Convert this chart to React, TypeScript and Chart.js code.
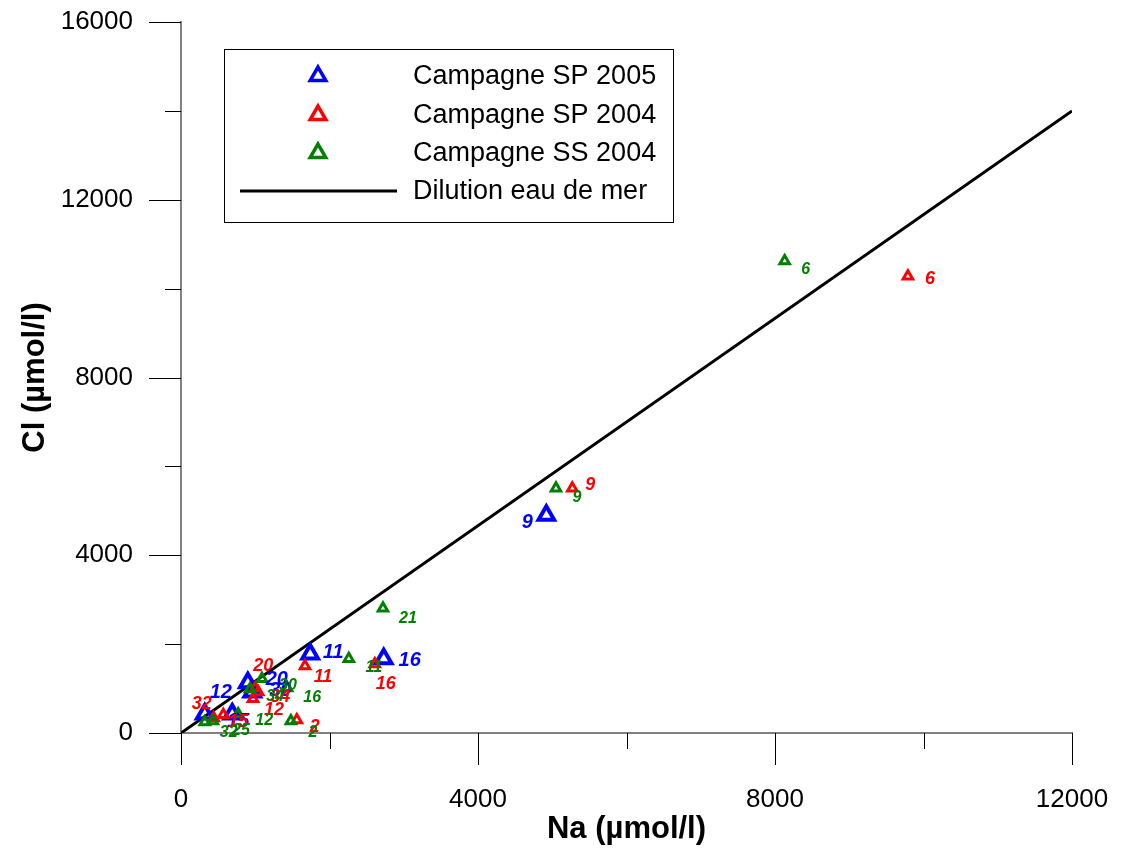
import React, { useEffect, useRef } from "react";
import { Chart, registerables } from "chart.js";

Chart.register(...registerables);

// ---- axis ticks ----
const xTickValues = [0, 4000, 8000, 12000];
const yTickValues = [0, 4000, 8000, 12000, 16000];
const xMinorStep = 2000;
const yMinorStep = 2000;

// ---- series names ----
const seriesNames = [
  "Campagne SP 2005",
  "Campagne SP 2004",
  "Campagne SS 2004",
  "Dilution eau de mer",
];

// ---- Campagne SP 2005 ----
const sp2005Ids = ["9", "16", "11", "20", "30", "12", "15"];
const sp2005Na = [4920, 2730, 1740, 900, 960, 320, 690];
const sp2005Cl = [4900, 1670, 1780, 1130, 920, 430, 430];

// ---- Campagne SP 2004 ----
const sp2004Ids = ["6", "9", "11", "16", "2", "20", "34", "12", "32", "15"];
const sp2004Na = [9790, 5270, 1670, 2610, 1560, 1000, 1040, 970, 440, 570];
const sp2004Cl = [10280, 5510, 1510, 1550, 290, 1010, 920, 770, 340, 410];

// ---- Campagne SS 2004 ----
const ss2004Ids = ["6", "9", "21", "11", "16", "30", "34", "12", "2", "32", "25"];
const ss2004Na = [8130, 5050, 2720, 2260, 1430, 1090, 930, 770, 1480, 320, 430];
const ss2004Cl = [10620, 5510, 2810, 1670, 1010, 1220, 990, 430, 270, 250, 270];

// ---- seawater dilution line ----
const dilutionNa = [0, 12000];
const dilutionCl = [0, 14000];

// label placement (pixel offsets from the marker), kept apart from the data
const labelOffsets: Record<string, [number, number][]> = {
  sp2005: [[-19, 7], [26, 2], [23, -1], [29, -3], [28, -2], [16, -21], [6, 8]],
  sp2004: [[22, 3], [18, -3], [18, 11], [11, 20], [18, 7], [8, -22], [22, 5], [21, 11], [-12, -14], [15, 7]],
  ss2004: [[21, 9], [21, 9], [25, 10], [25, 9], [25, 9], [26, 7], [25, 8], [26, 7], [22, 12], [24, 11], [28, 10]],
};

const BLUE = "#0000ff";
const RED = "#ff0000";
const GREEN = "#008000";
const FONT = "'Liberation Sans', Arial, Helvetica, sans-serif";

const toPoints = (xs: number[], ys: number[]) => xs.map((x, i) => ({ x, y: ys[i] }));

const zeroPadding = (scale: any) => {
  scale.paddingTop = 0;
  scale.paddingBottom = 0;
  scale.paddingLeft = 0;
  scale.paddingRight = 0;
};

const tickMarksPlugin = {
  id: "tickMarks",
  afterDraw(chart: any) {
    const { ctx, chartArea, scales } = chart;
    const xs = scales.x;
    const ys = scales.y;
    ctx.save();
    ctx.strokeStyle = "#000";
    ctx.lineWidth = 1;
    for (let v = xs.min; v <= xs.max; v += xMinorStep) {
      const px = Math.round(xs.getPixelForValue(v)) + 0.5;
      const len = v % 4000 === 0 ? 32 : 16;
      ctx.beginPath();
      ctx.moveTo(px, chartArea.bottom);
      ctx.lineTo(px, chartArea.bottom + len);
      ctx.stroke();
    }
    for (let v = ys.min; v <= ys.max; v += yMinorStep) {
      const py = Math.round(ys.getPixelForValue(v)) + 0.5;
      const len = v % 4000 === 0 ? 32 : 16;
      ctx.beginPath();
      ctx.moveTo(chartArea.left, py);
      ctx.lineTo(chartArea.left - len, py);
      ctx.stroke();
    }
    ctx.restore();
  },
};

const pointLabelsPlugin = {
  id: "pointLabels",
  afterDatasetsDraw(chart: any) {
    const { ctx } = chart;
    ctx.save();
    ctx.textAlign = "center";
    ctx.textBaseline = "middle";
    chart.data.datasets.forEach((ds: any, i: number) => {
      if (!ds.ids) return;
      const meta = chart.getDatasetMeta(i);
      const offs = labelOffsets[ds.labelKey] || [];
      ctx.fillStyle = ds.borderColor;
      ctx.font = `italic bold ${ds.labelSize}px ${FONT}`;
      meta.data.forEach((el: any, j: number) => {
        const [dx, dy] = offs[j] || [20, 6];
        ctx.fillText(ds.ids[j], el.x + dx, el.y + dy);
      });
    });
    ctx.restore();
  },
};

const legendPlugin = {
  id: "boxLegend",
  afterDraw(chart: any) {
    const { ctx } = chart;
    const ds = chart.data.datasets;
    const box = { x: 224.5, y: 49.5, w: 449, h: 173 };
    const rows = [76, 115, 153, 191];
    ctx.save();
    ctx.fillStyle = "#fff";
    ctx.fillRect(box.x, box.y, box.w, box.h);
    ctx.strokeStyle = "#000";
    ctx.lineWidth = 1;
    ctx.strokeRect(box.x, box.y, box.w, box.h);
    ctx.font = `27px ${FONT}`;
    ctx.textAlign = "left";
    ctx.textBaseline = "middle";
    ds.forEach((d: any, i: number) => {
      const y = rows[i];
      if (d.showLine) {
        ctx.strokeStyle = d.borderColor;
        ctx.lineWidth = 3;
        ctx.beginPath();
        ctx.moveTo(240, y);
        ctx.lineTo(397, y);
        ctx.stroke();
      } else {
        ctx.strokeStyle = d.borderColor;
        ctx.lineWidth = 3.5;
        ctx.lineJoin = "miter";
        const r = 9;
        ctx.beginPath();
        for (let k = 0; k < 3; k++) {
          const a = (k * 2 * Math.PI) / 3;
          const px = 318 + Math.sin(a) * r;
          const py = y - Math.cos(a) * r;
          if (k === 0) ctx.moveTo(px, py);
          else ctx.lineTo(px, py);
        }
        ctx.closePath();
        ctx.stroke();
      }
      ctx.fillStyle = "#000";
      ctx.fillText(d.label, 413, y + 1);
    });
    ctx.restore();
  },
};

export default function App() {
  const ref = useRef<HTMLCanvasElement>(null);

  useEffect(() => {
    const canvas = ref.current;
    if (!canvas) return;
    const chart = new Chart(canvas, {
      type: "scatter",
      data: {
        datasets: [
          {
            label: seriesNames[0],
            data: toPoints(sp2005Na, sp2005Cl),
            pointStyle: "triangle",
            pointRadius: 9,
            pointBorderWidth: 4,
            borderColor: BLUE,
            pointBorderColor: BLUE,
            backgroundColor: "rgba(0,0,0,0)",
            pointBackgroundColor: "rgba(0,0,0,0)",
            order: 3,
            ids: sp2005Ids,
            labelKey: "sp2005",
            labelSize: 20,
          } as any,
          {
            label: seriesNames[1],
            data: toPoints(sp2004Na, sp2004Cl),
            pointStyle: "triangle",
            pointRadius: 5.5,
            pointBorderWidth: 3,
            borderColor: RED,
            pointBorderColor: RED,
            backgroundColor: "rgba(0,0,0,0)",
            pointBackgroundColor: "rgba(0,0,0,0)",
            order: 2,
            ids: sp2004Ids,
            labelKey: "sp2004",
            labelSize: 18,
          } as any,
          {
            label: seriesNames[2],
            data: toPoints(ss2004Na, ss2004Cl),
            pointStyle: "triangle",
            pointRadius: 5.5,
            pointBorderWidth: 3,
            borderColor: GREEN,
            pointBorderColor: GREEN,
            backgroundColor: "rgba(0,0,0,0)",
            pointBackgroundColor: "rgba(0,0,0,0)",
            order: 1,
            ids: ss2004Ids,
            labelKey: "ss2004",
            labelSize: 16,
          } as any,
          {
            label: seriesNames[3],
            data: toPoints(dilutionNa, dilutionCl),
            showLine: true,
            borderColor: "#000",
            borderWidth: 3,
            pointRadius: 0,
            order: 4,
          } as any,
        ],
      },
      options: {
        responsive: false,
        animation: false,
        devicePixelRatio: 1,
        events: [],
        layout: { padding: { left: 0, top: 22, right: 51, bottom: 0 } },
        plugins: {
          legend: { display: false },
          tooltip: { enabled: false },
        },
        scales: {
          x: {
            type: "linear",
            min: 0,
            max: 12000,
            afterBuildTicks: (scale: any) => {
              scale.ticks = xTickValues.map((v) => ({ value: v }));
            },
            afterFit: (scale: any) => {
              scale.height = 115;
              zeroPadding(scale);
            },
            grid: { display: false, drawTicks: true, tickLength: 31 },
            border: { display: true, color: "#808080", width: 2 },
            ticks: {
              color: "#000",
              padding: 20,
              maxRotation: 0,
              font: { family: FONT, size: 26 },
              callback: (v: any) => String(v),
            },
            title: {
              display: true,
              text: "Na (µmol/l)",
              color: "#000",
              font: { family: FONT, size: 31, weight: "bold" },
              padding: { top: 0, bottom: 0 },
            },
          },
          y: {
            type: "linear",
            min: 0,
            max: 16000,
            afterBuildTicks: (scale: any) => {
              scale.ticks = yTickValues.map((v) => ({ value: v }));
            },
            afterFit: (scale: any) => {
              scale.width = 181;
              zeroPadding(scale);
            },
            grid: { display: false, drawTicks: true, tickLength: 31 },
            border: { display: true, color: "#808080", width: 2 },
            ticks: {
              color: "#000",
              padding: 17,
              font: { family: FONT, size: 26 },
              callback: (v: any) => String(v),
            },
            title: {
              display: true,
              text: "Cl (µmol/l)",
              color: "#000",
              font: { family: FONT, size: 31, weight: "bold" },
              padding: { top: 17, bottom: 0 },
            },
          },
        },
      } as any,
      plugins: [tickMarksPlugin, pointLabelsPlugin, legendPlugin],
    });
    return () => chart.destroy();
  }, []);

  return (
    <div style={{ position: "fixed", left: 0, top: 0, width: 1123, height: 848, background: "#fff" }}>
      <canvas ref={ref} width={1123} height={848} style={{ display: "block", width: 1123, height: 848 }} />
    </div>
  );
}
